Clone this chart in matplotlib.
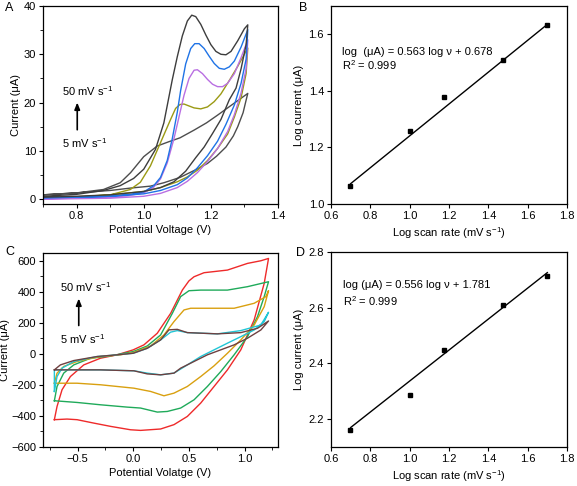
import numpy as np
import matplotlib
matplotlib.use('Agg')
import matplotlib.pyplot as plt
from matplotlib.ticker import MultipleLocator

plt.rcParams['font.family'] = ['Liberation Sans', 'DejaVu Sans']
plt.rcParams['mathtext.fontset'] = 'custom'
plt.rcParams['mathtext.rm'] = 'Liberation Sans'
plt.rcParams['mathtext.it'] = 'Liberation Sans:italic'
plt.rcParams['font.size'] = 8

# ---- panel A: CV curves (potential V, current uA), forward then reverse sweep
a50_x = [0.70, 0.80, 0.88, 0.93, 0.97, 1.00, 1.035, 1.06, 1.085, 1.10, 1.115, 1.13, 1.143, 1.155, 1.17, 1.185,
         1.20, 1.215, 1.23, 1.245, 1.26, 1.28, 1.30, 1.31,
         1.305, 1.29, 1.275, 1.255, 1.23, 1.205, 1.18, 1.155, 1.125, 1.09, 1.05, 1.00, 0.90, 0.80, 0.70]
a50_y = [0.6, 1.0, 1.8, 2.8, 4.3, 6.2, 10.3, 15.8, 24.7, 29.5, 33.8, 36.9, 38.1, 37.8, 36.2, 34.0,
         32.0, 30.6, 30.0, 29.9, 30.6, 32.8, 35.3, 36.1,
         32.0, 27.0, 23.0, 20.6, 16.5, 13.6, 10.8, 8.6, 5.8, 3.6, 2.4, 1.6, 0.9, 0.6, 0.4]

a30_x = [0.70, 0.80, 0.90, 0.96, 1.00, 1.03, 1.05, 1.07, 1.085, 1.10, 1.11, 1.125, 1.14, 1.152, 1.165, 1.18,
         1.195, 1.21, 1.225, 1.24, 1.255, 1.27, 1.29, 1.31,
         1.305, 1.29, 1.27, 1.245, 1.22, 1.19, 1.16, 1.13, 1.10, 1.05, 1.00, 0.90, 0.80, 0.70]
a30_y = [0.3, 0.4, 0.6, 1.0, 1.5, 2.8, 4.5, 8.0, 12.5, 18.0, 22.5, 28.0, 31.2, 32.2, 32.2, 31.2,
         29.6, 28.1, 27.1, 26.9, 27.4, 28.6, 31.5, 35.1,
         29.0, 24.0, 19.5, 15.5, 12.0, 9.0, 6.5, 4.4, 3.0, 1.8, 1.1, 0.6, 0.4, 0.3]

a15_x = [0.70, 0.80, 0.90, 0.96, 1.00, 1.03, 1.05, 1.07, 1.09, 1.105, 1.12, 1.135, 1.15, 1.16, 1.175, 1.19,
         1.205, 1.22, 1.235, 1.25, 1.27, 1.29, 1.31,
         1.305, 1.29, 1.27, 1.25, 1.22, 1.19, 1.16, 1.13, 1.10, 1.05, 1.00, 0.90, 0.80, 0.70]
a15_y = [0.1, 0.2, 0.4, 0.8, 1.3, 2.5, 4.2, 7.5, 12.5, 17.0, 21.5, 25.0, 26.7, 26.8, 26.0, 24.8,
         23.8, 23.3, 23.3, 24.0, 26.0, 29.3, 33.0,
         27.0, 22.0, 17.5, 14.0, 10.5, 7.8, 5.5, 3.7, 2.4, 1.2, 0.6, 0.2, 0.1, 0.0]

a10_x = [0.70, 0.80, 0.90, 0.96, 0.99, 1.02, 1.05, 1.08, 1.095, 1.108, 1.12, 1.135, 1.15, 1.17, 1.19, 1.21,
         1.23, 1.256, 1.28, 1.31,
         1.305, 1.29, 1.27, 1.25, 1.22, 1.19, 1.16, 1.13, 1.10, 1.05, 1.00, 0.90, 0.80, 0.70]
a10_y = [0.2, 0.4, 0.9, 2.0, 3.5, 6.9, 11.7, 16.5, 18.8, 19.6, 19.7, 19.3, 18.9, 18.7, 19.1, 20.2,
         21.8, 24.7, 27.5, 31.3,
         26.0, 21.0, 17.0, 13.5, 10.5, 8.0, 6.0, 4.6, 3.6, 2.4, 1.6, 0.9, 0.5, 0.3]

a5_x = [0.70, 0.80, 0.88, 0.93, 0.961, 1.00, 1.04, 1.075, 1.108, 1.15, 1.187, 1.22, 1.256, 1.29, 1.31,
        1.305, 1.296, 1.28, 1.267, 1.245, 1.217, 1.19, 1.158, 1.108, 1.06, 1.02, 0.961, 0.90, 0.80, 0.70]
a5_y = [0.9, 1.3, 2.0, 3.4, 5.5, 8.8, 11.0, 11.9, 12.7, 14.3, 15.8, 17.4, 19.2, 20.9, 21.9,
        20.5, 17.9, 15.0, 13.1, 10.8, 8.9, 7.4, 6.2, 4.5, 3.4, 2.7, 2.3, 1.8, 1.3, 0.9]

# ---- panel C: CV curves (potential V, current uA)
c50_x = [-0.708, -0.684, -0.639, -0.564, -0.444, -0.294, -0.144, 0.0, 0.096, 0.216, 0.336, 0.441, 0.50, 0.546,
         0.636, 0.846, 1.026, 1.146, 1.215, 1.176, 1.086, 0.966, 0.846, 0.726, 0.606, 0.486, 0.366, 0.246,
         0.066, -0.024, -0.204, -0.354, -0.504, -0.594, -0.708]
c50_y = [-424, -339, -231, -146, -71, -28, -6, 26, 58, 133, 261, 411, 470, 497,
         523, 540, 583, 600, 615, 454, 219, 26, -103, -210, -317, -403, -456, -484,
         -493, -489, -467, -446, -424, -420, -424]

c30_x = [-0.708, -0.684, -0.624, -0.534, -0.384, -0.204, 0.0, 0.126, 0.246, 0.351, 0.426, 0.501, 0.606, 0.846,
         1.026, 1.215, 1.176, 1.116, 1.026, 0.906, 0.786, 0.666, 0.546, 0.426, 0.306, 0.216, 0.066, -0.054,
         -0.294, -0.504, -0.708]
c30_y = [-302, -210, -124, -71, -28, -13, 15, 51, 122, 261, 369, 407, 411, 411,
         433, 465, 369, 240, 111, -6, -114, -210, -296, -349, -371, -375, -349, -343,
         -328, -313, -302]

c15_x = [-0.708, -0.684, -0.624, -0.504, -0.294, -0.114, 0.0, 0.156, 0.276, 0.366, 0.456, 0.516, 0.666, 0.906,
         1.086, 1.191, 1.215, 1.176, 1.086, 0.966, 0.846, 0.726, 0.606, 0.486, 0.366, 0.276, 0.156, 0.006,
         -0.144, -0.294, -0.504, -0.708]
c15_y = [-189, -124, -81, -49, -17, -6, 9, 51, 122, 208, 283, 294, 294, 294,
         326, 369, 407, 304, 186, 90, 4, -77, -146, -210, -253, -270, -242, -221,
         -210, -199, -189, -189]

c10_x = [-0.708, -0.684, -0.639, -0.534, -0.324, -0.144, 0.0, 0.126, 0.246, 0.336, 0.396, 0.486, 0.756, 0.966,
         1.146, 1.215, 1.176, 1.086, 0.966, 0.846, 0.726, 0.606, 0.486, 0.366, 0.246, 0.126, 0.006, -0.294,
         -0.594, -0.708, -0.708]
c10_y = [-242, -146, -92, -49, -17, -6, 4, 36, 90, 140, 150, 137, 129, 150,
         186, 268, 208, 154, 111, 69, 26, -17, -71, -124, -135, -124, -109, -103,
         -103, -103, -242]

c5_x = [-0.708, -0.654, -0.534, -0.324, -0.144, 0.0, 0.126, 0.246, 0.321, 0.396, 0.486, 0.756, 0.966, 1.116,
        1.215, 1.146, 1.026, 0.906, 0.786, 0.666, 0.546, 0.426, 0.366, 0.246, 0.126, 0.006, -0.294, -0.708]
c5_y = [-103, -71, -43, -17, -6, 4, 36, 90, 155, 158, 137, 129, 137, 165,
        212, 154, 101, 58, 26, -6, -49, -92, -124, -135, -129, -109, -103, -103]

# ---- panels B and D: log scan rate vs log peak current
log_rate = [0.699, 1.0, 1.176, 1.477, 1.699]
b_logi = [1.062, 1.257, 1.380, 1.508, 1.632]
d_logi = [2.162, 2.287, 2.449, 2.610, 2.714]
fit_x = [0.70, 1.70]
b_fit = [1.072, 1.635]
d_fit = [2.170, 2.726]

W, H = 577, 486
fig = plt.figure(figsize=(W / 100, H / 100), dpi=100)


def box(l, t, r, b):
    return [l / W, 1 - b / H, (r - l) / W, (b - t) / H]


axA = fig.add_axes(box(43, 6, 278, 204))
axB = fig.add_axes(box(331, 6, 567, 204))
axC = fig.add_axes(box(43, 253, 278, 447))
axD = fig.add_axes(box(331, 252, 567, 447))

for ax in (axA, axB, axC, axD):
    ax.tick_params(direction='out', length=3, width=0.8, labelsize=8, pad=2)
    ax.tick_params(which='minor', direction='out', length=2, width=0.6)
    for s in ax.spines.values():
        s.set_linewidth(0.9)

# A
lw = 1.0
axA.plot(a5_x, a5_y, color='#4d4d4d', lw=lw)
axA.plot(a10_x, a10_y, color='#9b9a14', lw=lw)
axA.plot(a15_x, a15_y, color='#b96fe2', lw=lw)
axA.plot(a30_x, a30_y, color='#1f73e6', lw=lw)
axA.plot(a50_x, a50_y, color='#3d3d3d', lw=lw)
axA.set_xlim(0.7, 1.4)
axA.set_ylim(-1, 40)
axA.xaxis.set_minor_locator(MultipleLocator(0.1))
axA.yaxis.set_major_locator(MultipleLocator(10))
axA.yaxis.set_minor_locator(MultipleLocator(5))
axA.set_xticks([0.8, 1.0, 1.2, 1.4])
axA.set_xlabel('Potential Voltage (V)', labelpad=3)
axA.set_ylabel('Current (μA)', labelpad=2)
axA.text(0.756, 22.4, '50 mV s$^{-1}$', fontsize=8, va='center')
axA.text(0.756, 11.6, '5 mV s$^{-1}$', fontsize=8, va='center')
axA.annotate('', xy=(0.802, 20.6), xytext=(0.802, 13.8),
             arrowprops=dict(arrowstyle='-|>,head_width=0.2,head_length=0.5', color='black', lw=1.2))

# B
axB.plot(fit_x, b_fit, color='black', lw=1.0)
axB.plot(log_rate, b_logi, 's', color='black', ms=3.5)
axB.set_xlim(0.6, 1.8)
axB.set_ylim(1.0, 1.7)
axB.xaxis.set_major_locator(MultipleLocator(0.2))
axB.set_yticks([1.0, 1.2, 1.4, 1.6])
axB.set_xlabel('Log scan rate (mV s$^{-1}$)', labelpad=3)
axB.set_ylabel('Log current (μA)', labelpad=3)
axB.text(0.656, 1.538, 'log  (μA) = 0.563 log ν + 0.678', fontsize=8, va='center')
axB.text(0.656, 1.490, 'R$^2$ = 0.999', fontsize=8, va='center')

# C
axC.plot(c50_x, c50_y, color='#ee2a2a', lw=lw)
axC.plot(c30_x, c30_y, color='#1faa5a', lw=lw)
axC.plot(c15_x, c15_y, color='#d9a010', lw=lw)
axC.plot(c10_x, c10_y, color='#22c6d6', lw=lw)
axC.plot(c5_x, c5_y, color='#6e4040', lw=lw)
axC.set_xlim(-0.81, 1.3)
axC.set_ylim(-600, 650)
axC.xaxis.set_major_locator(MultipleLocator(0.5))
axC.xaxis.set_minor_locator(MultipleLocator(0.25))
axC.set_yticks([-600, -400, -200, 0, 200, 400, 600])
axC.yaxis.set_minor_locator(MultipleLocator(100))
axC.set_xlabel('Potential Volatge (V)', labelpad=3)
axC.set_ylabel('Current (μA)', labelpad=1)
axC.text(-0.66, 429, '50 mV s$^{-1}$', fontsize=8, va='center')
axC.text(-0.66, 96, '5 mV s$^{-1}$', fontsize=8, va='center')
axC.annotate('', xy=(-0.489, 375), xytext=(-0.489, 165),
             arrowprops=dict(arrowstyle='-|>,head_width=0.2,head_length=0.5', color='black', lw=1.2))

# D
axD.plot(fit_x, d_fit, color='black', lw=1.0)
axD.plot(log_rate, d_logi, 's', color='black', ms=3.5)
axD.set_xlim(0.6, 1.8)
axD.set_ylim(2.1, 2.8)
axD.xaxis.set_major_locator(MultipleLocator(0.2))
axD.set_yticks([2.2, 2.4, 2.6, 2.8])
axD.set_xlabel('Log scan rate (mV s$^{-1}$)', labelpad=3)
axD.set_ylabel('Log current (μA)', labelpad=3)
axD.text(0.661, 2.681, 'log (μA) = 0.556 log ν + 1.781', fontsize=8, va='center')
axD.text(0.661, 2.624, 'R$^2$ = 0.999', fontsize=8, va='center')

# panel letters
fig.text(5 / W, 1 - 8 / H, 'A', fontsize=9, va='center')
fig.text(299 / W, 1 - 8 / H, 'B', fontsize=9, va='center')
fig.text(5 / W, 1 - 252 / H, 'C', fontsize=9, va='center')
fig.text(296 / W, 1 - 253 / H, 'D', fontsize=9, va='center')

fig.savefig('out.png', dpi=100)
